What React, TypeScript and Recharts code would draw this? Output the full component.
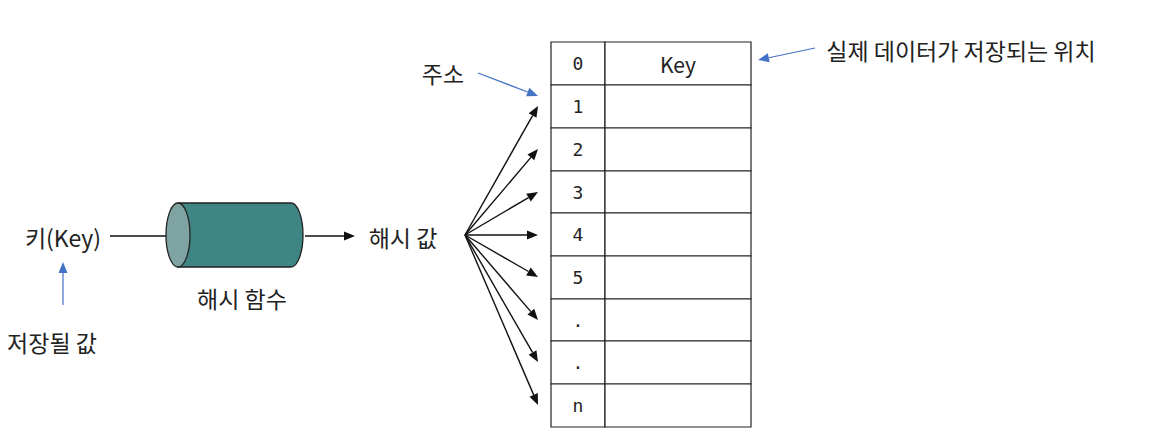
import React from 'react';
import { ComposedChart, XAxis, YAxis, ReferenceArea, ReferenceLine, ReferenceDot } from 'recharts';

const rowLabels = ['0', '1', '2', '3', '4', '5', '.', '.', 'n'];
const rowEdges = [42, 85, 128, 171, 213, 256, 299, 341, 384, 427];
const fanTargets = [106, 149, 192, 235, 277, 320, 362, 405];
const texts = [
  { x: 63, y: 237, t: '키(Key)' },
  { x: 242, y: 298, t: '해시 함수' },
  { x: 403, y: 237, t: '해시 값' },
  { x: 52, y: 342, t: '저장될 값' },
  { x: 443, y: 73, t: '주소' },
  { x: 961, y: 50, t: '실제 데이터가 저장되는 위치' },
];
const blackArrows = [
  { x1: 110, y1: 236, x2: 186, y2: 236 },
  { x1: 305, y1: 236, x2: 355, y2: 236 },
  ...fanTargets.map((y) => ({ x1: 465, y1: 235, x2: 538, y2: y })),
];
const blueArrows = [
  { x1: 63, y1: 305, x2: 63, y2: 262 },
  { x1: 478, y1: 73, x2: 538, y2: 96 },
  { x1: 815, y1: 48, x2: 758, y2: 60 },
];

const arrowShape = (color: string, w: number) => (p: any) => {
  const { x1, y1, x2, y2 } = p;
  const a = Math.atan2(y2 - y1, x2 - x1);
  const L = 11, H = 4.5;
  const bx = x2 - L * Math.cos(a), by = y2 - L * Math.sin(a);
  const pts = [
    [x2, y2],
    [bx + H * Math.sin(a), by - H * Math.cos(a)],
    [bx - H * Math.sin(a), by + H * Math.cos(a)],
  ].map((q) => q.join(',')).join(' ');
  return (
    <g>
      <line x1={x1} y1={y1} x2={bx} y2={by} stroke={color} strokeWidth={w} />
      <polygon points={pts} fill={color} />
    </g>
  );
};

const font = "'Noto Sans CJK KR', 'Noto Sans', sans-serif";

export default function App() {
  return (
    <div style={{ position: 'absolute', left: 0, top: 0, background: '#fff' }}>
      <ComposedChart width={1152} height={446} margin={{ top: 0, right: 0, bottom: 0, left: 0 }} data={[{ x: 0 }]}>
        <XAxis type="number" dataKey="x" domain={[0, 1152]} hide allowDataOverflow />
        <YAxis type="number" domain={[0, 446]} reversed hide allowDataOverflow />
        {rowLabels.map((_, i) => (
          <ReferenceArea key={'a' + i} x1={551} x2={605} y1={rowEdges[i]} y2={rowEdges[i + 1]} fill="#fff" fillOpacity={1} stroke="#222" strokeWidth={1.2} />
        ))}
        {rowLabels.map((_, i) => (
          <ReferenceArea key={'b' + i} x1={605} x2={751} y1={rowEdges[i]} y2={rowEdges[i + 1]} fill="#fff" fillOpacity={1} stroke="#222" strokeWidth={1.2} />
        ))}
        {rowLabels.map((l, i) => (
          <ReferenceDot key={'l' + i} x={578} y={(rowEdges[i] + rowEdges[i + 1]) / 2} r={0}
            shape={(p: any) => <text x={p.cx} y={p.cy} textAnchor="middle" dominantBaseline="central" fontFamily="'DejaVu Sans Mono', monospace" fontSize={18} fill="#222">{l}</text>} />
        ))}
        <ReferenceDot x={678} y={64} r={0}
          shape={(p: any) => <text x={p.cx} y={p.cy} textAnchor="middle" dominantBaseline="central" fontFamily={font} fontSize={21} fill="#222">Key</text>} />
        <ReferenceDot x={291} y={235} r={0}
          shape={(p: any) => (
            <path d={`M${178},${p.cy - 32} L${p.cx},${p.cy - 32} A12,32 0 0 1 ${p.cx},${p.cy + 32} L${178},${p.cy + 32} Z`}
              fill="#3f8583" stroke="#222" strokeWidth={1.3} />
          )} />
        <ReferenceDot x={178} y={235} r={0}
          shape={(p: any) => <ellipse cx={p.cx} cy={p.cy} rx={12} ry={32} fill="#7fa3a2" stroke="#222" strokeWidth={1.3} />} />
        {blackArrows.map((a, i) => (
          <ReferenceLine key={'k' + i} segment={[{ x: a.x1, y: a.y1 }, { x: a.x2, y: a.y2 }]} shape={arrowShape('#111', 1.4)} />
        ))}
        {blueArrows.map((a, i) => (
          <ReferenceLine key={'u' + i} segment={[{ x: a.x1, y: a.y1 }, { x: a.x2, y: a.y2 }]} shape={arrowShape('#4472c4', 1.2)} />
        ))}
        {texts.map((t, i) => (
          <ReferenceDot key={'t' + i} x={t.x} y={t.y} r={0}
            shape={(p: any) => <text x={p.cx} y={p.cy} textAnchor="middle" dominantBaseline="central" fontFamily={font} fontSize={23} fill="#222">{t.t}</text>} />
        ))}
      </ComposedChart>
    </div>
  );
}
